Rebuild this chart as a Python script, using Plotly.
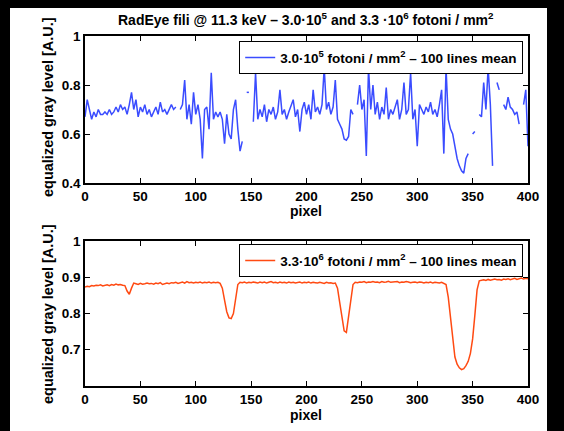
import plotly.graph_objects as go

# ---------------- data ----------------
pixel_top = list(range(0, 401, 2))
gray_3e5 = [
    0.67, 0.74, 0.70, 0.66, 0.69, 0.67, 0.70, 0.68, 0.68, 0.69,
    0.68, 0.70, 0.68, 0.69, 0.71, 0.69, 0.72, 0.70, 0.71, 0.68,
    0.72, 0.77, 0.70, 0.74, 0.67, 0.71, 0.69, 0.72, 0.68, 0.70,
    0.67, 0.69, 0.71, 0.68, 0.73, 0.69, 0.70, 0.68, 0.70, 0.72,
    0.70, 0.71, None, 0.70, 0.72, 0.82, 0.66, 0.72, 0.64, 0.77,
    0.68, 0.72, 0.66, 0.50, 0.70, 0.71, 0.62, 0.85, 0.66, 0.69,
    0.67, 0.69, 0.66, 0.56, 0.68, 0.60, 0.58, 0.70, 0.74, 0.62,
    0.53, 0.57, None, 0.77, 0.77, None, 0.65, 0.85, 0.66, 0.70,
    0.67, 0.72, 0.65, 0.70, 0.68, 0.71, 0.66, 0.69, 0.78, 0.68,
    0.70, 0.66, 0.69, 0.72, 0.74, 0.67, 0.70, 0.61, 0.70, 0.73,
    0.68, 0.72, 0.66, 0.78, 0.69, 0.71, 0.68, 0.72, 0.87, 0.70,
    0.73, 0.68, 0.71, 0.82, 0.66, 0.64, 0.62, 0.58, 0.575, 0.59,
    0.70, 0.68, None, 0.72, 0.80, 0.70, 0.74, 0.51, 0.87, 0.70,
    0.80, 0.68, 0.73, 0.66, 0.71, 0.68, 0.79, 0.66, 0.70, 0.68,
    0.71, 0.74, 0.66, 0.70, 0.81, 0.68, 0.70, 0.85, 0.66, 0.70,
    0.55, 0.72, 0.70, 0.68, 0.71, 0.69, 0.73, 0.68, 0.70, 0.67,
    0.72, 0.78, 0.52, 0.87, 0.66, 0.62, 0.60, 0.55, 0.50, 0.47,
    0.45, 0.44, 0.50, 0.52, None, 0.60, 0.61, None, 0.68, 0.67,
    0.81, 0.70, 0.87, 0.72, 0.47, None, 0.81, 0.78, None, 0.72,
    0.70, 0.75, 0.71, 0.70, 0.68, 0.69, 0.64, None, 0.72, 0.78,
    0.55,
]

pixel_bot = list(range(0, 401, 2))
gray_3e6 = [
    0.873, 0.875, 0.874, 0.877, 0.876, 0.878, 0.877, 0.879, 0.876, 0.878,
    0.879, 0.877, 0.880, 0.878, 0.881, 0.879, 0.880, 0.878, 0.877, 0.862,
    0.853, 0.870, 0.884, 0.882, 0.880, 0.883, 0.881, 0.882, 0.884, 0.882,
    0.883, 0.881, 0.884, 0.882, 0.885, 0.880, 0.883, 0.884, 0.882, 0.885,
    0.884, 0.886, 0.883, 0.885, 0.887, 0.884, 0.888, 0.885, 0.886, 0.884,
    0.886, 0.885, 0.887, 0.884, 0.886, 0.885, 0.887, 0.884, 0.886, 0.885,
    0.886, 0.883, 0.870, 0.837, 0.805, 0.788, 0.786, 0.800, 0.842, 0.880,
    0.886, 0.885, 0.887, 0.884, 0.886, 0.885, 0.887, 0.886, 0.884, 0.887,
    0.885, 0.887, 0.884, 0.886, 0.888, 0.885, 0.886, 0.884, 0.887, 0.885,
    0.886, 0.884, 0.887, 0.885, 0.886, 0.884, 0.885, 0.887, 0.884, 0.886,
    0.885, 0.887, 0.884, 0.886, 0.885, 0.884, 0.886, 0.885, 0.883, 0.886,
    0.884, 0.885, 0.883, 0.884, 0.870, 0.830, 0.785, 0.752, 0.748, 0.790,
    0.845, 0.880, 0.886, 0.885, 0.887, 0.886, 0.888, 0.885, 0.887, 0.886,
    0.888, 0.886, 0.887, 0.885, 0.888, 0.886, 0.887, 0.889, 0.886, 0.887,
    0.886, 0.888, 0.885, 0.887, 0.886, 0.888, 0.887, 0.885, 0.886, 0.887,
    0.885, 0.887, 0.886, 0.884, 0.886, 0.885, 0.887, 0.884, 0.886, 0.885,
    0.884, 0.886, 0.884, 0.880, 0.845, 0.785, 0.725, 0.680, 0.660, 0.650,
    0.645, 0.648, 0.656, 0.668, 0.690, 0.730, 0.795, 0.865, 0.890, 0.892,
    0.893, 0.891, 0.894, 0.892, 0.893, 0.895, 0.893, 0.894, 0.892, 0.895,
    0.894, 0.896, 0.893, 0.895, 0.897, 0.894, 0.896, 0.898, 0.895, 0.897,
    0.896,
]

x_ticks = [0, 50, 100, 150, 200, 250, 300, 350, 400]
y_ticks_top = [0.4, 0.6, 0.8, 1.0]
y_ticks_bot = [0.7, 0.8, 0.9, 1.0]
y_ticklabels_top = ["0.4", "0.6", "0.8", "1"]
y_ticklabels_bot = ["0.7", "0.8", "0.9", "1"]

name_top = "3.0·10<sup>5</sup> fotoni / mm<sup>2</sup> – 100 lines mean"
name_bot = "3.3·10<sup>6</sup> fotoni / mm<sup>2</sup> – 100 lines mean"
title = "RadEye fili @ 11.3 keV – 3.0·10<sup>5</sup> and 3.3 ·10<sup>6</sup> fotoni / mm<sup>2</sup>"

# ---------------- figure ----------------
W, H = 564, 431
FONT = "Liberation Sans, Arial, sans-serif"

fig = go.Figure()
fig.add_trace(go.Scatter(x=pixel_top, y=gray_3e5, mode="lines", name=name_top,
                         line=dict(color="#3a4cff", width=1.5), connectgaps=False,
                         xaxis="x", yaxis="y", legend="legend"))
fig.add_trace(go.Scatter(x=pixel_bot, y=gray_3e6, mode="lines", name=name_bot,
                         line=dict(color="#ff4a12", width=1.5),
                         xaxis="x2", yaxis="y2", legend="legend2"))

def px_x(p):
    return p / W

def px_y(p):
    return 1 - p / H

axis_common = dict(showline=True, mirror="ticks", linecolor="black", linewidth=1.5,
                   ticks="inside", ticklen=5, tickwidth=1, tickcolor="black",
                   showgrid=False, zeroline=False, automargin=False,
                   tickfont=dict(family=FONT, size=13.5, color="black", weight="bold"))

legend_common = dict(xanchor="right", yanchor="top",
                     bgcolor="white", bordercolor="black", borderwidth=1.2,
                     font=dict(family=FONT, size=13.5, color="black", weight="bold"),
                     itemwidth=30, tracegroupgap=0)

fig.update_layout(
    template="none",
    width=W, height=H,
    margin=dict(l=0, r=0, t=0, b=0, pad=0),
    paper_bgcolor="black",
    plot_bgcolor="white",
    showlegend=True,
    xaxis=dict(domain=[px_x(85), px_x(528)], range=[0, 400], tickvals=x_ticks,
               anchor="y", **axis_common),
    yaxis=dict(domain=[px_y(183), px_y(36)], range=[0.4, 1.0], tickvals=y_ticks_top,
               ticktext=y_ticklabels_top, anchor="x", **axis_common),
    xaxis2=dict(domain=[px_x(85), px_x(528)], range=[0, 400], tickvals=x_ticks,
                anchor="y2", **axis_common),
    yaxis2=dict(domain=[px_y(386), px_y(241)], range=[0.6, 1.0], tickvals=y_ticks_bot,
                ticktext=y_ticklabels_bot, anchor="x2", **axis_common),
    legend=dict(x=px_x(523), y=px_y(41), **legend_common),
    legend2=dict(x=px_x(523), y=px_y(244), **legend_common),
    shapes=[dict(type="rect", xref="paper", yref="paper", layer="below",
                 x0=px_x(10), x1=px_x(547), y0=0, y1=px_y(8),
                 fillcolor="white", line=dict(width=0))],
    annotations=[
        dict(text=title, xref="paper", yref="paper", x=px_x(306), y=px_y(19),
             showarrow=False, xanchor="center", yanchor="middle",
             font=dict(family=FONT, size=14, color="black", weight="bold")),
        dict(text="pixel", xref="paper", yref="paper", x=px_x(306), y=px_y(211),
             showarrow=False, xanchor="center", yanchor="middle",
             font=dict(family=FONT, size=14, color="black", weight="bold")),
        dict(text="pixel", xref="paper", yref="paper", x=px_x(306), y=px_y(415),
             showarrow=False, xanchor="center", yanchor="middle",
             font=dict(family=FONT, size=14, color="black", weight="bold")),
        dict(text="equalized gray level [A.U.]", xref="paper", yref="paper",
             x=px_x(48), y=px_y(107), textangle=-90, showarrow=False,
             xanchor="center", yanchor="middle",
             font=dict(family=FONT, size=14.5, color="black", weight="bold")),
        dict(text="equalized gray level [A.U.]", xref="paper", yref="paper",
             x=px_x(48), y=px_y(314), textangle=-90, showarrow=False,
             xanchor="center", yanchor="middle",
             font=dict(family=FONT, size=14.5, color="black", weight="bold")),
    ],
)

# remove the browser's default page margin so the figure sits at the window's corner
fig.write_html("out.html",
               config={"displayModeBar": False},
               post_script="document.body.style.margin='0';"
                           "document.body.style.background='black';")
